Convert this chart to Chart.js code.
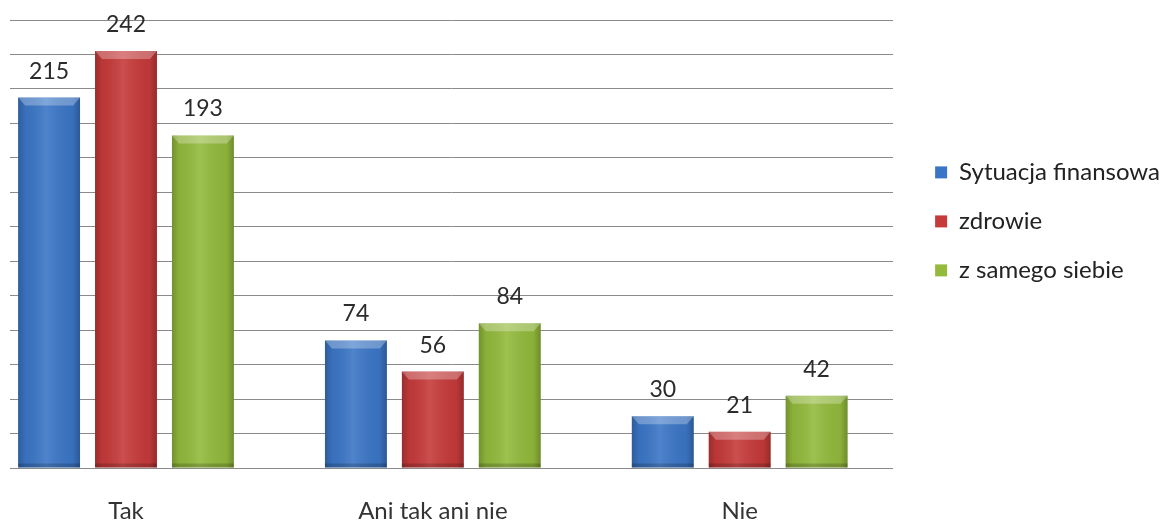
<!DOCTYPE html>
<html>
<head>
<meta charset="utf-8">
<script src="https://cdn.jsdelivr.net/npm/chart.js@4/dist/chart.umd.min.js"></script>
<style>
  html, body { margin: 0; padding: 0; background: #fff; }
  #wrap { width: 1167px; height: 520px; }
</style>
</head>
<body>
<div id="wrap"><canvas id="myChart"></canvas></div>
<script>
//chart data
const categories = ["Tak", "Ani tak ani nie", "Nie"];
const seriesNames = ["Sytuacja finansowa", "zdrowie", "z samego siebie"];
const finanse = [215, 74, 30];
const zdrowie = [242, 56, 21];
const samSiebie = [193, 84, 42];
const yMax = 260;
const yStep = 20;

const colors = ["#3b76c6", "#c63a3a", "#93ba3c"];
const fontName = "Lato, 'Open Sans', sans-serif";

//turn one array into points for the linear x axis
function toPoints(values) {
  return values.map((v, i) => ({ x: i, y: v }));
}

//soft 3D look on top of each bar
const bevelPlugin = {
  id: "bevel",
  afterDatasetsDraw(chart) {
    const ctx = chart.ctx;
    chart.data.datasets.forEach((ds, di) => {
      const meta = chart.getDatasetMeta(di);
      for (let bar of meta.data) {
        let { x, y, width, base } = bar.getProps(["x", "y", "width", "base"], true);
        let left = x - width / 2;
        let right = x + width / 2;
        ctx.save();
        let g = ctx.createLinearGradient(left, 0, right, 0);
        g.addColorStop(0, "rgba(0,0,0,0.22)");
        g.addColorStop(0.12, "rgba(0,0,0,0.05)");
        g.addColorStop(0.45, "rgba(255,255,255,0.10)");
        g.addColorStop(0.88, "rgba(0,0,0,0.05)");
        g.addColorStop(1, "rgba(0,0,0,0.25)");
        ctx.fillStyle = g;
        ctx.fillRect(left, y, width, base - y);
        //top bevel
        ctx.beginPath();
        ctx.moveTo(left, y);
        ctx.lineTo(right, y);
        ctx.lineTo(right - 7, y + 8);
        ctx.lineTo(left + 7, y + 8);
        ctx.closePath();
        ctx.fillStyle = "rgba(255,255,255,0.28)";
        ctx.fill();
        //darker bottom edge
        ctx.fillStyle = "rgba(0,0,0,0.18)";
        ctx.fillRect(left, base - 4, width, 4);
        ctx.restore();
      }
    });
  }
};

//value labels above bars
const valuePlugin = {
  id: "values",
  afterDatasetsDraw(chart) {
    const ctx = chart.ctx;
    ctx.save();
    ctx.font = "23px " + fontName;
    ctx.fillStyle = "#2b2b2b";
    ctx.textAlign = "center";
    ctx.textBaseline = "alphabetic";
    chart.data.datasets.forEach((ds, di) => {
      const meta = chart.getDatasetMeta(di);
      meta.data.forEach((bar, i) => {
        ctx.fillText(String(ds.data[i].y), bar.x, bar.y - 19);
      });
    });
    ctx.restore();
  }
};

function loadChart() {
  const ctx = document.getElementById("myChart").getContext("2d");
  const series = [finanse, zdrowie, samSiebie];
  new Chart(ctx, {
    type: "bar",
    data: {
      datasets: series.map((values, i) => ({
        label: seriesNames[i],
        data: toPoints(values),
        backgroundColor: colors[i],
        borderWidth: 0,
        categoryPercentage: 0.752,
        barPercentage: 0.805
      }))
    },
    options: {
      responsive: true,
      maintainAspectRatio: false,
      animation: false,
      layout: { padding: { left: 10, top: 20, right: -3, bottom: 0 } },
      scales: {
        x: {
          type: "linear",
          bounds: "data",
          offset: false,
          min: -0.378,
          max: 2.5,
          grid: { display: false, drawTicks: false },
          border: { display: false },
          ticks: {
            padding: 29,
            color: "#333",
            font: { family: fontName, size: 24 },
            callback: v => (Number.isInteger(v) ? categories[v] : "")
          },
          //one tick per category
          afterBuildTicks(scale) {
            scale.ticks = categories.map((c, i) => ({ value: i }));
          },
          afterFit(scale) {
            scale.height = 52;
          }
        },
        y: {
          position: "right",
          min: 0,
          max: yMax,
          ticks: { stepSize: yStep, display: false },
          grid: { color: "#8a8a8a", lineWidth: 1, drawTicks: false },
          border: { display: false },
          afterFit(scale) {
            scale.width = 17;
          }
        }
      },
      plugins: {
        legend: {
          position: "right",
          align: "start",
          title: { display: true, text: "", padding: { top: 101, bottom: 0 } },
          labels: {
            boxWidth: 12,
            boxHeight: 12,
            padding: 25,
            color: "#222",
            font: { family: fontName, size: 24 }
          }
        },
        tooltip: { enabled: false }
      }
    },
    plugins: [bevelPlugin, valuePlugin]
  });
}

window.onload = function() {
  loadChart();
};
</script>
</body>
</html>
